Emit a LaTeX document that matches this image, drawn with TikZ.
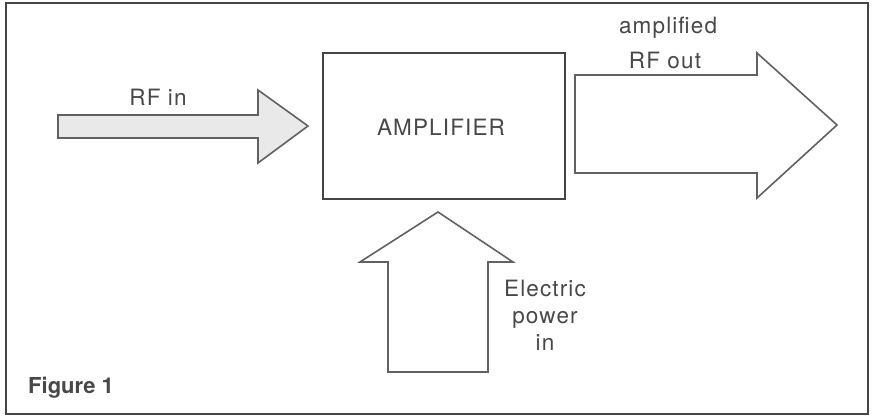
\documentclass[tikz,border=0pt]{standalone}
\usepackage{fontspec}
\setmainfont{TeX Gyre Heros}
\definecolor{ink}{HTML}{454545}
\definecolor{txt}{HTML}{484848}
\definecolor{shade}{HTML}{E9E9E9}
\begin{document}
\begin{tikzpicture}[x=1pt,y=-1pt,
  lbl/.style={text=txt,inner sep=0pt,font=\fontsize{22.5}{27}\selectfont\addfontfeatures{LetterSpace=5}},
  bigarrow/.style={draw=ink!85,line width=1.6pt,line join=miter},
  frame/.style={draw=ink,line width=2pt}]
\useasboundingbox (0,0) rectangle (873,419);
\draw[frame] (6,3) rectangle (868,414);
% amplifier box
\draw[frame,line width=2.2pt] (323,53) rectangle (565,199);
\node[lbl] (amp) at (441,127) {AMPLIFIER};
% RF in arrow
\draw[bigarrow,fill=shade] (58,115) -- (258,115) -- (258,90) -- (308,126) -- (258,163) -- (258,138) -- (58,138) -- cycle;
\node[lbl] (rfin) at (158,97) {RF in};
% RF out arrow
\draw[bigarrow,fill=white] (575,75) -- (757,75) -- (757,53) -- (837,125) -- (757,198) -- (757,173) -- (575,173) -- cycle;
\node[lbl] (ampl) at (668,28) {amplified};
\node[lbl] (rfout) at (665,60) {RF out};
% power arrow
\draw[bigarrow,fill=white] (388,372) -- (388,262) -- (360,262) -- (438,212) -- (513,262) -- (488,262) -- (488,372) -- cycle;
\node[lbl,align=center] (pwr) at (545,315) {Electric\\power\\in};
% caption
\node[anchor=west,text=txt,inner sep=0pt,font=\fontsize{22}{26}\selectfont\bfseries] (fig) at (28,388) {Figure 1};
\end{tikzpicture}
\end{document}
